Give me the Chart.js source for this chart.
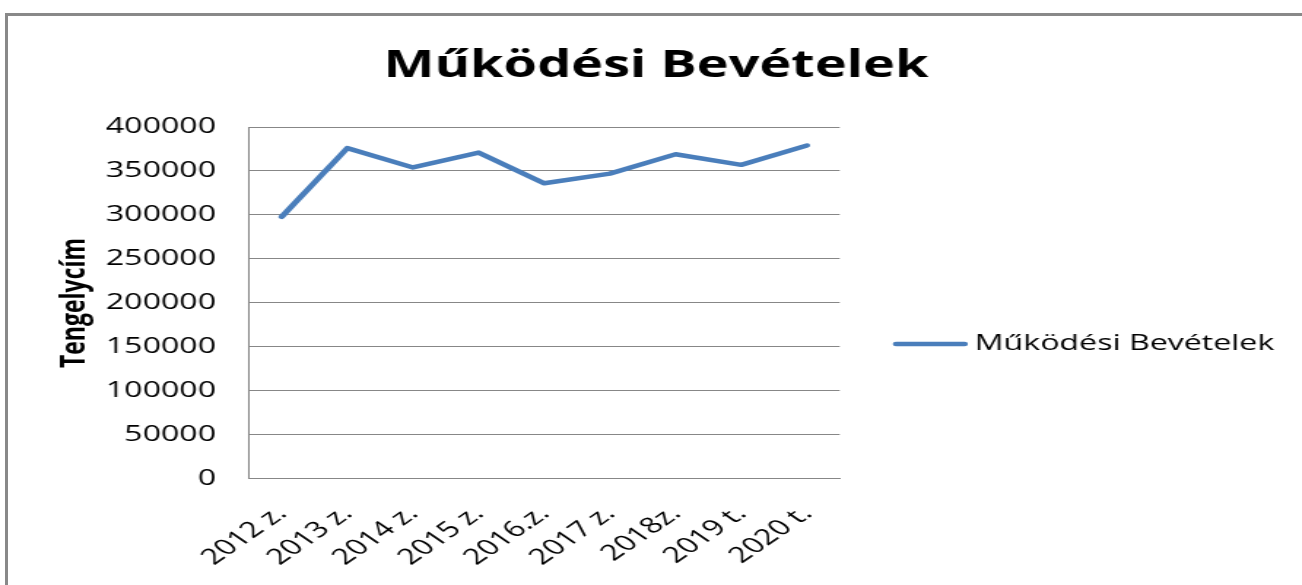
<!DOCTYPE html>
<html>
<head>
<meta charset="utf-8">
<script src="https://cdn.jsdelivr.net/npm/chart.js@4"></script>
<style>
  html, body { margin: 0; padding: 0; background: #ffffff; overflow: hidden; width: 1302px; height: 585px; }
  #frame { position: absolute; left: 5px; top: 13px; width: 1400px; height: 700px; border: 3px solid #898989; box-sizing: border-box; }
  #wrap { position: absolute; left: 0; top: 0; width: 892px; height: 585px; transform: scaleX(1.4596); transform-origin: 0 0; }
  canvas { display: block; }
</style>
</head>
<body>
<div id="frame"></div>
<div id="wrap"><canvas id="c" width="892" height="585"></canvas></div>
<script>
const chartTitle = 'Működési Bevételek';
const seriesName = 'Működési Bevételek';
const yAxisTitle = 'Tengelycím';
const categories = ['2012 z.', '2013 z.', '2014 z.', '2015 z.', '2016.z.', '2017 z.', '2018z.', '2019 t.', '2020 t.'];
const values = [298000, 376000, 354000, 371000, 336000, 347000, 369000, 357000, 379000];
const yTickValues = [0, 50000, 100000, 150000, 200000, 250000, 300000, 350000, 400000];

Chart.defaults.font.family = "'Open Sans', sans-serif";
Chart.defaults.color = '#000000';

const lineColor = '#4A7EBB';
const gridColor = '#878787';
const legendFont = "22px 'Open Sans', sans-serif";

// Legend drawn beside the plot (the built-in legend is width-limited on narrow canvases)
const sideLegend = {
  id: 'sideLegend',
  afterDraw(chart) {
    const ctx = chart.ctx;
    const ca = chart.chartArea;
    const ds = chart.data.datasets[0];
    const y = (ca.top + ca.bottom) / 2 + 41;
    const x0 = ca.right + 38.6;
    const x1 = x0 + 47;
    ctx.save();
    ctx.strokeStyle = ds.borderColor;
    ctx.lineWidth = ds.borderWidth;
    ctx.lineCap = 'round';
    ctx.beginPath();
    ctx.moveTo(x0, y);
    ctx.lineTo(x1, y);
    ctx.stroke();
    ctx.fillStyle = '#000000';
    ctx.font = legendFont;
    ctx.textAlign = 'left';
    ctx.textBaseline = 'middle';
    ctx.fillText(ds.label, ca.right + 92.5, y);
    ctx.restore();
  }
};

new Chart(document.getElementById('c'), {
  type: 'line',
  data: {
    labels: categories,
    datasets: [{
      label: seriesName,
      data: values,
      borderColor: lineColor,
      backgroundColor: lineColor,
      borderWidth: 4.5,
      tension: 0,
      pointRadius: 0,
      pointHoverRadius: 0,
      borderJoinStyle: 'round',
      borderCapStyle: 'round',
      fill: false,
      yAxisID: 'y'
    }]
  },
  plugins: [sideLegend],
  options: {
    responsive: false,
    animation: false,
    events: [],
    layout: { padding: { left: 7, right: 0, top: 0, bottom: -7.7 } },
    plugins: {
      title: {
        display: true,
        text: chartTitle,
        color: '#000000',
        font: { size: 37, weight: 'bold' },
        padding: { top: 44.5, bottom: 38.1 }
      },
      legend: { display: false },
      tooltip: { enabled: false }
    },
    scales: {
      x: {
        offset: true,
        grid: { display: false, drawTicks: false },
        border: { display: true, color: gridColor, width: 1 },
        ticks: {
          minRotation: 45,
          maxRotation: 45,
          padding: 22,
          autoSkip: false,
          color: '#000000',
          font: { size: 22 }
        }
      },
      y: {
        min: 0,
        max: 400000,
        afterBuildTicks: (scale) => { scale.ticks = yTickValues.map(v => ({ value: v })); },
        grid: { color: gridColor, lineWidth: 1, drawTicks: false },
        border: { display: true, color: gridColor, width: 1 },
        ticks: {
          padding: 22.5,
          color: '#000000',
          font: { size: 22 },
          callback: (v) => String(v)
        },
        title: {
          display: true,
          text: yAxisTitle,
          color: '#000000',
          font: { size: 23, weight: 'bold' },
          padding: { top: 30.6, bottom: -15.2 }
        }
      },
      legendSpace: {
        type: 'linear',
        position: 'right',
        display: true,
        grid: { display: false, drawTicks: false },
        border: { display: false },
        ticks: { display: false },
        afterFit: (scale) => { scale.width = 316.7; }
      }
    }
  }
});
</script>
</body>
</html>
